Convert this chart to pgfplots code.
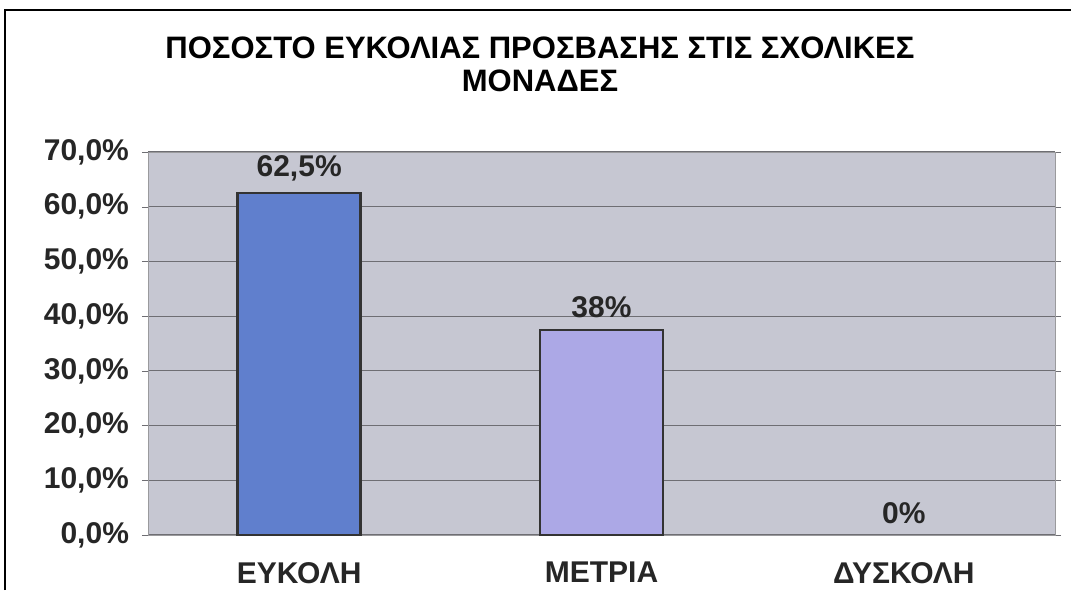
\documentclass[border=0pt]{standalone}
\usepackage{pgfplots}
\pgfplotsset{compat=1.18}
\usepackage{fontspec}
\setmainfont{Liberation Sans}

\definecolor{plotbg}{RGB}{198,199,210}
\definecolor{barA}{RGB}{96,127,205}
\definecolor{barB}{RGB}{172,168,230}
\definecolor{gridc}{RGB}{110,110,115}

\begin{document}
\begin{tikzpicture}[x=0.5pt,y=0.5pt]
% canvas in reference pixels (1071 x 607), y measured from the bottom
\path[use as bounding box] (0,0) rectangle (1071,607);
\draw[line width=1.2pt] (5,17) -- (5,597) -- (1071,597);

\node[align=center, font=\bfseries\fontsize{15.5}{16.5}\selectfont] at (540,543)
  {ΠΟΣΟΣΤΟ ΕΥΚΟΛΙΑΣ ΠΡΟΣΒΑΣΗΣ ΣΤΙΣ ΣΧΟΛΙΚΕΣ\\ΜΟΝΑΔΕΣ};

\begin{axis}[
    at={(74pt,36pt)}, anchor=south west,
    scale only axis,
    width=453.5pt, height=191.5pt,
    xmin=-0.5, xmax=2.5,
    ymin=0, ymax=70,
    xtick={0,1,2},
    xticklabels={ΕΥΚΟΛΗ,ΜΕΤΡΙΑ,ΔΥΣΚΟΛΗ},
    ytick={0,10,...,70},
    yticklabel={\pgfmathprintnumber[fixed,fixed zerofill,precision=1,use comma]{\tick}\%},
    /pgf/number format/assume math mode=true,
    ticklabel style={font=\bfseries\fontsize{15}{17}\selectfont, text=black!85},
    xticklabel style={yshift=-7pt},
    yticklabel style={xshift=-3pt},
    xtick style={draw=none},
    ytick style={gridc},
    major tick length=3pt,
    tick align=outside,
    axis background/.style={fill=plotbg},
    axis line style={gridc!70},
    ymajorgrids,
    grid style={gridc, line width=0.6pt},
    ybar, bar width=61.5pt, bar shift=0pt,
    point meta=explicit symbolic,
    nodes near coords,
    every node near coord/.append style={font=\bfseries\fontsize{15}{17}\selectfont, text=black!85, yshift=2pt},
]
\addplot[fill=barA, draw=black!80, line width=1.2pt] coordinates {(0,62.5) [62,5\%]};
\addplot[fill=barB, draw=black!80, line width=1.2pt] coordinates {(1,37.5) [38\%]};
\addplot[draw=none, fill=none] coordinates {(2,0) [0\%]};
\end{axis}
\end{tikzpicture}
\end{document}
